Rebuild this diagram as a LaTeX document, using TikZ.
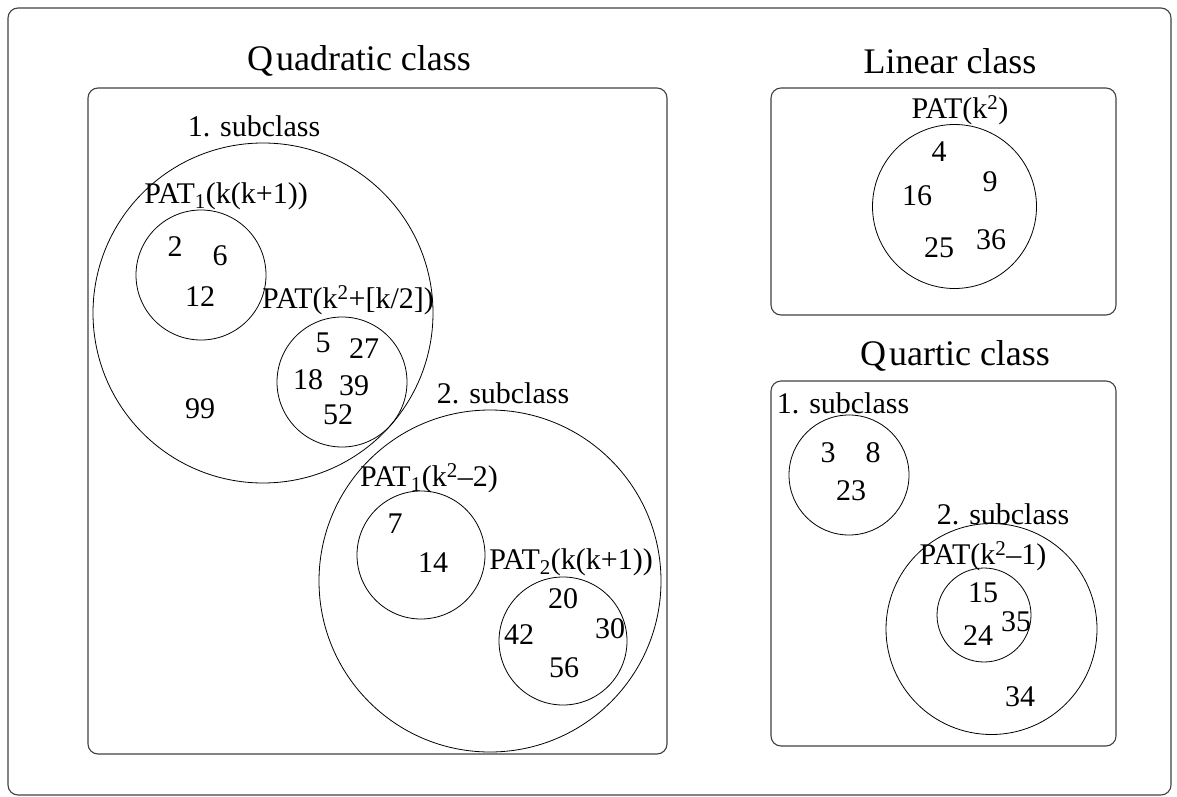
\documentclass[tikz,border=0pt]{standalone}
\usepackage{fontspec}
\setmainfont{Liberation Serif}
\begin{document}
\begin{tikzpicture}[x=1pt,y=-1pt,
  frame/.style={draw=black!75, line width=1.1pt, rounded corners=10pt},
  ring/.style={draw, circle, line width=0.8pt, inner sep=0pt},
  num/.style={font=\fontsize{30}{31}\selectfont, inner sep=0pt},
  ttl/.style={font=\fontsize{36}{38}\selectfont, inner sep=0pt}]
\useasboundingbox (0,0) rectangle (1177,797);
% outer frame
\draw[frame] (8,8) rectangle (1171,795);
% class boxes
\draw[frame] (88,88) rectangle (667,754);
\draw[frame] (771,88) rectangle (1116,315);
\draw[frame] (771,381) rectangle (1116,746);
% titles
\node[ttl] (tq) at (359,61) {Q\kern3pt uadratic class};
\node[ttl] (tl) at (950,61) {Linear class};
\node[ttl] (tr) at (955,356) {Q\kern3pt uartic class};
% ---------- Quadratic class ----------
\node[ring, minimum size=340pt] (q1) at (263,313) {};
\node[num] (q1l) at (254,126) {1. subclass};
\node[ring, minimum size=130pt] (qa) at (201,275) {};
\node[num] (qal) at (226,196) {PAT\textsubscript{1}(k(k+1))};
\node[num] at (175,247) {2};
\node[num] at (220,256) {6};
\node[num] at (200,297) {12};
\node[ring, minimum size=130pt] (qb) at (342,382) {};
\node[num] (qbl) at (348,300) {PAT(k\textsuperscript{2}+[k/2])};
\node[num] at (323,343) {5};
\node[num] at (364,349) {27};
\node[num] at (308,380) {18};
\node[num] at (354,386) {39};
\node[num] at (338,415) {52};
\node[num] at (200,409) {99};
\node[ring, minimum size=342pt] (q2) at (490,581) {};
\node[num] (q2l) at (503,393) {2. subclass};
\node[ring, minimum size=128pt] (qc) at (421,555) {};
\node[num] (qcl) at (429,478) {PAT\textsubscript{1}(k\textsuperscript{2}–2)};
\node[num] at (395,524) {7};
\node[num] at (433,563) {14};
\node[ring, minimum size=128pt] (qd) at (563,641) {};
\node[num] (qdl) at (571,562) {PAT\textsubscript{2}(k(k+1))};
\node[num] at (563,599) {20};
\node[num] at (610,629) {30};
\node[num] at (519,635) {42};
\node[num] at (564,668) {56};
% ---------- Linear class ----------
\node[ring, minimum size=164pt] (la) at (954.5,206.5) {};
\node[num] (lal) at (960,110) {PAT(k\textsuperscript{2})};
\node[num] at (939,152) {4};
\node[num] at (990,182) {9};
\node[num] at (917,196) {16};
\node[num] at (939,248) {25};
\node[num] at (991,240) {36};
% ---------- Quartic class ----------
\node[num] (r1l) at (843,403) {1. subclass};
\node[ring, minimum size=120pt] (r1) at (849,475) {};
\node[num] at (828,453) {3};
\node[num] at (873,453) {8};
\node[num] at (851,491) {23};
\node[num] (r2l) at (1003,514) {2. subclass};
\node[ring, minimum size=211pt] (r2) at (991.5,629) {};
\node[ring, minimum size=94pt] (r2a) at (984,615) {};
\node[num] (r2al) at (983,556) {PAT(k\textsuperscript{2}–1)};
\node[num] at (983,593) {15};
\node[num] at (978,636) {24};
\node[num] at (1016,622) {35};
\node[num] at (1020,697) {34};
\end{tikzpicture}
\end{document}
